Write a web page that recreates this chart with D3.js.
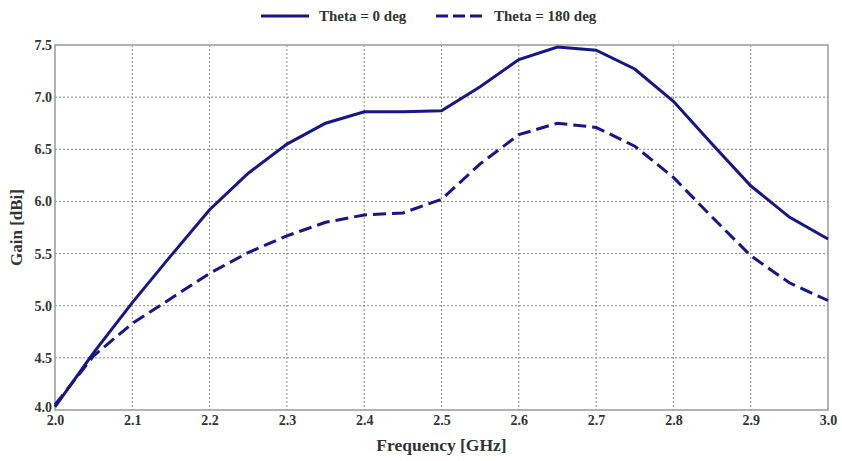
<!DOCTYPE html>
<html>
<head>
<meta charset="utf-8">
<script src="https://cdn.jsdelivr.net/npm/d3@7"></script>
<style>
  body { margin: 0; background: #fff; }
  text { font-family: "Liberation Serif", "Times New Roman", serif; font-weight: bold; fill: #333; }
</style>
</head>
<body>
<script>
// frequency points (GHz)
let freq = [2.0, 2.05, 2.1, 2.15, 2.2, 2.25, 2.3, 2.35, 2.4, 2.45, 2.5,
            2.55, 2.6, 2.65, 2.7, 2.75, 2.8, 2.85, 2.9, 2.95, 3.0];
// gain values (dBi)
let gain0 = [4.03, 4.55, 5.03, 5.48, 5.92, 6.27, 6.55, 6.75, 6.86, 6.86, 6.87,
             7.10, 7.36, 7.48, 7.45, 7.27, 6.96, 6.55, 6.15, 5.85, 5.64];
let gain180 = [4.05, 4.52, 4.83, 5.07, 5.31, 5.51, 5.67, 5.80, 5.87, 5.89, 6.02,
               6.36, 6.64, 6.75, 6.71, 6.53, 6.23, 5.85, 5.48, 5.22, 5.05];
let seriesNames = ['Theta = 0 deg', 'Theta = 180 deg'];
let xTicks = [2.0, 2.1, 2.2, 2.3, 2.4, 2.5, 2.6, 2.7, 2.8, 2.9, 3.0];
let yTicks = [4.0, 4.5, 5.0, 5.5, 6.0, 6.5, 7.0, 7.5];

let width = 842, height = 461;
let margin = { top: 45, bottom: 51, left: 55, right: 14 };
let color = '#16168a';

let svg = d3.select('body')
  .append('svg')
  .attr('width', width)
  .attr('height', height);

let xScale = d3.scaleLinear()
  .domain([2.0, 3.0])
  .range([margin.left, width - margin.right]);

let yScale = d3.scaleLinear()
  .domain([4.0, 7.5])
  .range([height - margin.bottom, margin.top]);

// grid
svg.append('g')
  .selectAll('line')
  .data(xTicks.slice(1, -1))
  .enter()
  .append('line')
  .attr('x1', d => xScale(d)).attr('x2', d => xScale(d))
  .attr('y1', margin.top).attr('y2', height - margin.bottom)
  .attr('stroke', '#888').attr('stroke-width', 1).attr('stroke-dasharray', '2,2');

svg.append('g')
  .selectAll('line')
  .data(yTicks.slice(1, -1))
  .enter()
  .append('line')
  .attr('x1', margin.left).attr('x2', width - margin.right)
  .attr('y1', d => yScale(d)).attr('y2', d => yScale(d))
  .attr('stroke', '#888').attr('stroke-width', 1).attr('stroke-dasharray', '2,2');

// frame
svg.append('rect')
  .attr('x', margin.left).attr('y', margin.top)
  .attr('width', width - margin.left - margin.right)
  .attr('height', height - margin.top - margin.bottom)
  .attr('fill', 'none').attr('stroke', '#999').attr('stroke-width', 1.5);

// axes (labels only)
let xAxis = svg.append('g')
  .attr('transform', `translate(0, ${height - margin.bottom})`)
  .call(d3.axisBottom(xScale).tickValues(xTicks).tickFormat(d3.format('.1f')).tickSize(0).tickPadding(5));
let yAxis = svg.append('g')
  .attr('transform', `translate(${margin.left},0)`)
  .call(d3.axisLeft(yScale).tickValues(yTicks).tickFormat(d3.format('.1f')).tickSize(0).tickPadding(3));
svg.selectAll('.domain').remove();
svg.selectAll('.tick text')
  .style('font-family', '"Liberation Serif", serif')
  .style('font-weight', 'bold')
  .style('font-size', '14px')
  .attr('fill', '#333');
// lift the 4.0 label a little so it clears the 2.0 label
yAxis.selectAll('.tick text').filter(d => d === 4.0).attr('dy', '0.1em');

// axis titles
svg.append('text')
  .attr('x', (margin.left + width - margin.right) / 2)
  .attr('y', 451)
  .attr('text-anchor', 'middle')
  .style('font-size', '17.5px')
  .text('Frequency [GHz]');

svg.append('text')
  .attr('transform', `translate(22, ${(margin.top + height - margin.bottom) / 2}) rotate(-90)`)
  .attr('text-anchor', 'middle')
  .style('font-size', '17px')
  .text('Gain [dBi]');

// lines
let line = d3.line()
  .x((d, i) => xScale(freq[i]))
  .y(d => yScale(d));

svg.append('path')
  .attr('d', line(gain0))
  .attr('fill', 'none').attr('stroke', color).attr('stroke-width', 3);

svg.append('path')
  .attr('d', line(gain180))
  .attr('fill', 'none').attr('stroke', color).attr('stroke-width', 3)
  .attr('stroke-dasharray', '13,6');

// legend
let legend = svg.append('g');
let legendX = [261, 436];
legend.selectAll('line')
  .data(seriesNames)
  .enter()
  .append('line')
  .attr('x1', (d, i) => legendX[i]).attr('x2', (d, i) => legendX[i] + 48)
  .attr('y1', 16).attr('y2', 16)
  .attr('stroke', color).attr('stroke-width', 3)
  .attr('stroke-dasharray', (d, i) => i === 0 ? null : '12,5');
legend.selectAll('text')
  .data(seriesNames)
  .enter()
  .append('text')
  .attr('x', (d, i) => legendX[i] + 58)
  .attr('y', 21)
  .style('font-size', '15px')
  .text(d => d);
</script>
</body>
</html>
